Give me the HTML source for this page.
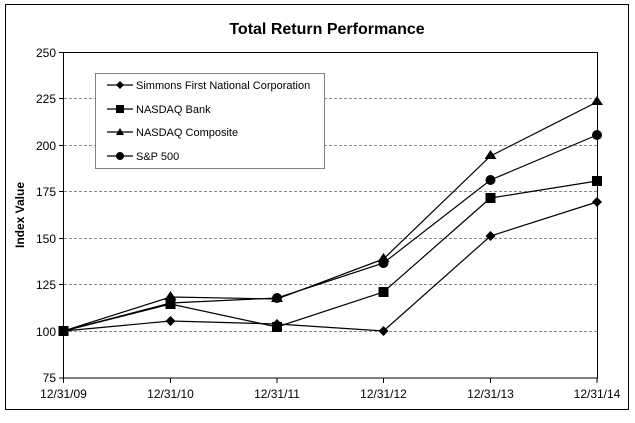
<!DOCTYPE html>
<html><head><meta charset="utf-8"><style>
body{margin:0;background:#fff}
svg text{font-family:"Liberation Sans",Arial,sans-serif;fill:#000}
</style></head><body>
<svg width="635" height="418" viewBox="0 0 635 418">
<rect x="5.5" y="4.5" width="623" height="405" fill="#fff" stroke="#000" stroke-width="1"/>
<text x="327" y="34" font-size="16" font-weight="bold" text-anchor="middle">Total Return Performance</text>
<g stroke="#888" stroke-dasharray="3,2" stroke-width="1">
<line x1="64" y1="98.5" x2="597" y2="98.5"/>
<line x1="64" y1="145.5" x2="597" y2="145.5"/>
<line x1="64" y1="191.5" x2="597" y2="191.5"/>
<line x1="64" y1="238.5" x2="597" y2="238.5"/>
<line x1="64" y1="284.5" x2="597" y2="284.5"/>
<line x1="64" y1="331.5" x2="597" y2="331.5"/>
</g>
<rect x="63.5" y="52.5" width="534" height="325.5" fill="none" stroke="#000"/>
<g stroke="#000">
<line x1="59" y1="52.5" x2="64" y2="52.5"/><line x1="59" y1="98.5" x2="64" y2="98.5"/><line x1="59" y1="145.5" x2="64" y2="145.5"/><line x1="59" y1="191.5" x2="64" y2="191.5"/><line x1="59" y1="238.5" x2="64" y2="238.5"/><line x1="59" y1="284.5" x2="64" y2="284.5"/><line x1="59" y1="331.5" x2="64" y2="331.5"/><line x1="59" y1="378" x2="64" y2="378"/>
<line x1="63.5" y1="378" x2="63.5" y2="383"/><line x1="170.5" y1="378" x2="170.5" y2="383"/><line x1="277" y1="378" x2="277" y2="383"/><line x1="383.5" y1="378" x2="383.5" y2="383"/><line x1="490.5" y1="378" x2="490.5" y2="383"/><line x1="597" y1="378" x2="597" y2="383"/>
</g>
<g font-size="12" text-anchor="end">
<text x="56" y="57">250</text><text x="56" y="103">225</text><text x="56" y="150">200</text><text x="56" y="196">175</text><text x="56" y="243">150</text><text x="56" y="289">125</text><text x="56" y="336">100</text><text x="56" y="382">75</text>
</g>
<g font-size="12" text-anchor="middle">
<text x="63.5" y="398">12/31/09</text><text x="170.5" y="398">12/31/10</text><text x="277" y="398">12/31/11</text><text x="383.5" y="398">12/31/12</text><text x="490.5" y="398">12/31/13</text><text x="597" y="398">12/31/14</text>
</g>
<text transform="translate(24,215) rotate(-90)" font-size="12" font-weight="bold" text-anchor="middle">Index Value</text>
<g fill="none" stroke="#000" stroke-width="1.2">
<polyline points="63.5,331 170.5,321 277,324 383.5,331 490.5,236 597,202"/>
<polyline points="63.5,331 170.5,304 277,327 383.5,292 490.5,198 597,181"/>
<polyline points="63.5,331 170.5,297 277,299 383.5,259 490.5,156 597,102"/>
<polyline points="63.5,331 170.5,303 277,298 383.5,263 490.5,180 597,135"/>
</g>
<g fill="#000">
<g id="d"><path d="M63.5,326 L68.5,331 L63.5,336 L58.5,331Z"/></g>
<path d="M170.5,316 l5,5 l-5,5 l-5,-5Z"/><path d="M277,319 l5,5 l-5,5 l-5,-5Z"/><path d="M383.5,326 l5,5 l-5,5 l-5,-5Z"/><path d="M490.5,231 l5,5 l-5,5 l-5,-5Z"/><path d="M597,197 l5,5 l-5,5 l-5,-5Z"/>
<path d="M170.5,291 l6,9 l-12,0Z"/><path d="M277,293 l6,9 l-12,0Z"/><path d="M383.5,253 l6,9 l-12,0Z"/><path d="M490.5,150 l6,9 l-12,0Z"/><path d="M597,96 l6,9 l-12,0Z"/>
<circle cx="170.5" cy="303" r="5"/><circle cx="277" cy="298" r="5"/><circle cx="383.5" cy="263" r="5"/><circle cx="490.5" cy="180" r="5"/><circle cx="597" cy="135" r="5"/>
<rect x="58.5" y="326" width="10" height="10"/><rect x="165.5" y="299" width="10" height="10"/><rect x="272" y="322" width="10" height="10"/><rect x="378.5" y="287" width="10" height="10"/><rect x="485.5" y="193" width="10" height="10"/><rect x="592" y="176" width="10" height="10"/>
</g>
<rect x="95.5" y="73.5" width="229" height="95" fill="#fff" stroke="#808080"/>
<g stroke="#000" stroke-width="1.2">
<line x1="107" y1="85" x2="133" y2="85"/><line x1="107" y1="109" x2="133" y2="109"/><line x1="107" y1="132" x2="133" y2="132"/><line x1="107" y1="156" x2="133" y2="156"/>
</g>
<g fill="#000">
<path d="M120,81 l4,4 l-4,4 l-4,-4Z"/><rect x="116" y="105" width="8" height="8"/><path d="M120,128 l4,7 l-8,0Z"/><circle cx="120" cy="156" r="4"/>
</g>
<g font-size="11">
<text x="136" y="89">Simmons First National Corporation</text><text x="136" y="113">NASDAQ Bank</text><text x="136" y="136">NASDAQ Composite</text><text x="136" y="160">S&amp;P 500</text>
</g>
</svg>
</body></html>
